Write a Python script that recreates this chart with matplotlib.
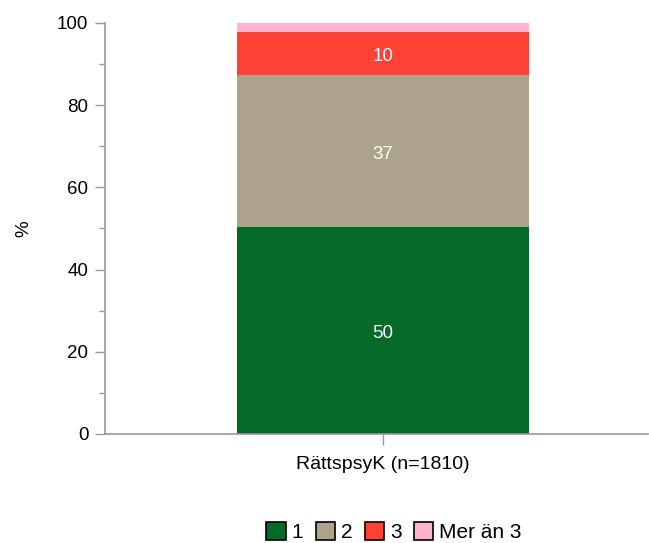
import matplotlib
matplotlib.use("Agg")
import matplotlib.pyplot as plt
from matplotlib.patches import Patch
from matplotlib.ticker import MultipleLocator

plt.rcParams['font.family'] = ['Liberation Sans', 'DejaVu Sans']

category = "RättspsyK (n=1810)"
series_names = ["1", "2", "3", "Mer än 3"]
series_values = [50.4, 37.0, 10.4, 2.2]
series_labels = ["50", "37", "10", ""]
colors = ["#036a2a", "#ada38b", "#ff4136", "#ffb3cf"]

FS = 13.5

fig = plt.figure(figsize=(6.49, 5.43), dpi=100)
ax = fig.add_axes([105 / 649, 1 - 434 / 543, 543 / 649, 411 / 543])

bottom = 0.0
for name, val, lab, col in zip(series_names, series_values, series_labels, colors):
    ax.bar(0, val, width=0.538, bottom=bottom, color=col, linewidth=0)
    if lab:
        ax.annotate(lab, (0, bottom + val / 2), xytext=(0, -2.5),
                    textcoords="offset points", ha="center", va="center",
                    color="white", fontsize=FS)
    bottom += val

ax.set_xlim(-0.512, 0.488)
ax.set_ylim(0, 100)
ax.set_xticks([0])
ax.set_xticklabels([category], fontsize=14)
ax.yaxis.set_major_locator(MultipleLocator(20))
ax.yaxis.set_minor_locator(MultipleLocator(10))
ax.tick_params(axis="y", which="major", length=7, color="#999999", width=1,
               labelsize=FS, pad=5)
ax.tick_params(axis="y", which="minor", length=4, color="#999999", width=1)
ax.tick_params(axis="x", length=8, color="#999999", width=1, pad=8)
for s in ["top", "right"]:
    ax.spines[s].set_visible(False)
for s in ["left", "bottom"]:
    ax.spines[s].set_color("#999999")
    ax.spines[s].set_linewidth(1.2)
ax.set_ylabel("%", fontsize=FS, labelpad=18)

handles = [Patch(facecolor=c, edgecolor="black", linewidth=1.2) for c in colors]
fig.legend(handles, series_names, loc="center", bbox_to_anchor=(394 / 649, 1 - 532 / 543),
           ncol=4, frameon=False, fontsize=15, handlelength=0.92, handleheight=0.92,
           handletextpad=0.3, columnspacing=0.58, borderpad=0)

fig.savefig("out.png", dpi=100)
